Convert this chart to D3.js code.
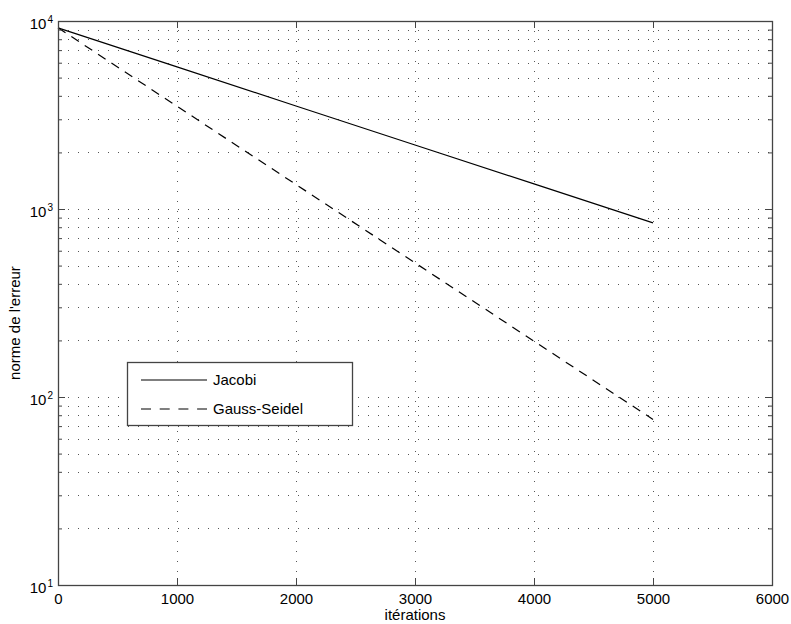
<!DOCTYPE html>
<html>
<head>
<meta charset="utf-8">
<script src="https://cdn.jsdelivr.net/npm/d3@7"></script>
<style>
  body { margin: 0; background: #fff; }
  text { font-family: "Liberation Sans", Arial, sans-serif; fill: #000; }
</style>
</head>
<body>
<div id="chart-area"></div>
<script>
// values
const iterations = [0, 1000, 2000, 3000, 4000, 5000];
const jacobi = [9200, 5700, 3530, 2190, 1360, 843];
const gaussSeidel = [9200, 3520, 1350, 517, 198, 76];

const xTicks = [0, 1000, 2000, 3000, 4000, 5000, 6000];
const yMajor = [10, 100, 1000, 10000];
const yMinor = [20, 30, 40, 50, 60, 70, 80, 90, 200, 300, 400, 500, 600, 700, 800, 900,
  2000, 3000, 4000, 5000, 6000, 7000, 8000, 9000];

const seriesNames = ["Jacobi", "Gauss-Seidel"];

const canvasWidth = 791;
const canvasHeight = 624;
const margin = {left: 58, top: 21, right: 19, bottom: 39};
const chartWidth = canvasWidth - margin.left - margin.right;
const chartHeight = canvasHeight - margin.top - margin.bottom;

const canvas = d3.select("#chart-area").append("svg").attr("width", canvasWidth).attr("height", canvasHeight);
const chartGroup = canvas.append("g").attr("transform", `translate(${margin.left}, ${margin.top})`);

const scaleX = d3.scaleLinear().domain([0, 6000]).range([0, chartWidth]);
const scaleY = d3.scaleLog().domain([10, 10000]).range([chartHeight, 0]);

// dotted grid like matlab "grid on" (faint in the scan)
const grid = chartGroup.append("g").attr("stroke", "#555").attr("stroke-width", 1).attr("stroke-dasharray", "1,9");
grid.selectAll(".gx").data(xTicks.slice(1, -1)).enter().append("line")
  .attr("x1", d => scaleX(d) + 0.5).attr("x2", d => scaleX(d) + 0.5)
  .attr("y1", 0).attr("y2", chartHeight);
grid.selectAll(".gy").data(yMinor.concat([100, 1000])).enter().append("line")
  .attr("x1", 0).attr("x2", chartWidth)
  .attr("y1", d => Math.round(scaleY(d)) + 0.5).attr("y2", d => Math.round(scaleY(d)) + 0.5);

const line = d3.line().x((d, i) => scaleX(iterations[i])).y(d => scaleY(d));

chartGroup.append("path").datum(jacobi)
  .attr("fill", "none").attr("stroke", "#000").attr("stroke-width", 1.2)
  .attr("d", line);

chartGroup.append("path").datum(gaussSeidel)
  .attr("fill", "none").attr("stroke", "#000").attr("stroke-width", 1.2)
  .attr("stroke-dasharray", "9,7")
  .attr("d", line);

// axes, ticks pointing inward
function styleAxis(g) {
  g.selectAll(".domain").remove();
  g.selectAll(".tick line").attr("stroke", "#444");
  g.attr("font-size", "15px").attr("font-family", "Liberation Sans, Arial, sans-serif");
}

const xAxis = d3.axisBottom(scaleX).tickValues(xTicks).tickSizeInner(-7).tickSizeOuter(0).tickPadding(8).tickFormat(d3.format("d"));
chartGroup.append("g").attr("transform", `translate(0, ${chartHeight})`).call(xAxis).call(styleAxis);

chartGroup.append("g")
  .call(d3.axisTop(scaleX).tickValues(xTicks).tickSizeInner(-7).tickSizeOuter(0).tickFormat(""))
  .call(styleAxis);

const yAxis = d3.axisLeft(scaleY).tickValues(yMajor).tickSizeInner(-7).tickSizeOuter(0).tickPadding(5).tickFormat(() => "");
const gy = chartGroup.append("g").call(yAxis).call(styleAxis);
gy.selectAll(".tick text").attr("dy", "0.47em").each(function(d) {
  const t = d3.select(this);
  t.append("tspan").text("10");
  t.append("tspan").attr("dy", "-0.6em").attr("font-size", "10px").attr("dx", "1").text(Math.round(Math.log10(d)));
});

chartGroup.append("g")
  .call(d3.axisLeft(scaleY).tickValues(yMinor).tickSizeInner(-4).tickSizeOuter(0).tickFormat(""))
  .call(styleAxis);

const gRight = chartGroup.append("g").attr("transform", `translate(${chartWidth}, 0)`);
gRight.append("g").call(d3.axisRight(scaleY).tickValues(yMajor).tickSizeInner(-7).tickSizeOuter(0).tickFormat("")).call(styleAxis);
gRight.append("g").call(d3.axisRight(scaleY).tickValues(yMinor).tickSizeInner(-4).tickSizeOuter(0).tickFormat("")).call(styleAxis);

// frame
chartGroup.append("rect")
  .attr("x", 0.5).attr("y", 0.5).attr("width", chartWidth).attr("height", chartHeight)
  .attr("fill", "none").attr("stroke", "#444").attr("stroke-width", 1.3);

// axis titles
chartGroup.append("text")
  .attr("font-size", "15px")
  .attr("text-anchor", "middle")
  .attr("x", chartWidth / 2)
  .attr("y", chartHeight + 35)
  .text("itérations");

chartGroup.append("text")
  .attr("font-size", "15px")
  .attr("text-anchor", "middle")
  .attr("transform", `translate(${20 - margin.left}, ${chartHeight / 2 + 20}) rotate(-90)`)
  .text("norme de l'erreur");

// legend
const legend = chartGroup.append("g").attr("transform", `translate(${127 - margin.left}, ${362 - margin.top})`);
legend.append("rect").attr("x", 0.5).attr("y", 0.5).attr("width", 225).attr("height", 63)
  .attr("fill", "#fff").attr("stroke", "#444").attr("stroke-width", 1.3);

seriesNames.forEach((name, i) => {
  const row = legend.append("g").attr("transform", `translate(0, ${18 + i * 29})`);
  row.append("line").attr("x1", 14).attr("x2", 80).attr("y1", 0).attr("y2", 0)
    .attr("stroke", "#000").attr("stroke-width", 1.2)
    .attr("stroke-dasharray", i === 1 ? "10,8.7" : null);
  row.append("text").attr("x", 86).attr("y", 5).attr("font-size", "15px").text(name);
});
</script>
</body>
</html>
